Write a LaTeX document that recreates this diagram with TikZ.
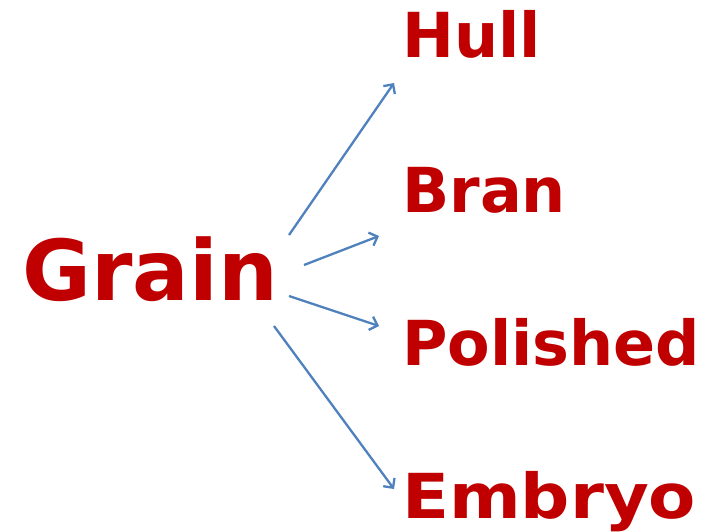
\documentclass[tikz,border=0pt]{standalone}
\usepackage{fontspec}
\setmainfont{DejaVu Sans}
\usetikzlibrary{arrows.meta}
\definecolor{wordred}{HTML}{C00000}
\definecolor{linkblue}{HTML}{4F81BD}
\begin{document}
\begin{tikzpicture}[x=1pt,y=-1pt,
  word/.style={anchor=base west, inner sep=0pt, text=wordred, font=\bfseries\fontsize{62}{62}\selectfont},
  wide/.style={word, font=\bfseries\fontsize{62}{62}\selectfont\addfontfeature{FakeStretch=1.11}},
  big/.style={word, font=\bfseries\fontsize{84}{84}\selectfont},
  link/.style={draw=linkblue, line width=2.3pt, -{Straight Barb[length=7pt,width=14pt,line width=2.3pt]}}]
  \useasboundingbox (0,0) rectangle (709,531);

  % labels
  \node[big]  (grain)    at (22,300) {Grain};
  \node[word] (hull)     at (402,57) {Hull};
  \node[word] (bran)     at (402,212) {Bran};
  \node[word] (polished) at (402,365) {Polished};
  \node[wide] (embryo)   at (402,518) {Embryo};

  % arrow end points
  \coordinate (s1) at (289,235);  \coordinate (e1) at (394,83);
  \coordinate (s2) at (304,265);  \coordinate (e2) at (379,236);
  \coordinate (s3) at (289,296);  \coordinate (e3) at (379,326);
  \coordinate (s4) at (274,326);  \coordinate (e4) at (394,489);

  \draw[link] (s1) -- (e1);
  \draw[link] (s2) -- (e2);
  \draw[link] (s3) -- (e3);
  \draw[link] (s4) -- (e4);
\end{tikzpicture}
\end{document}
